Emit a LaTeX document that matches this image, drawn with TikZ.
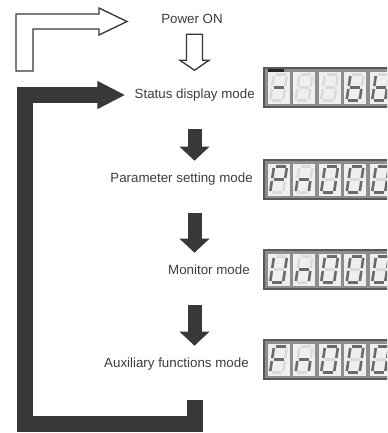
\documentclass[tikz,border=0pt]{standalone}
\usepackage{fontspec}
\setmainfont{Liberation Sans}
\usepackage{tikz}
\usetikzlibrary{arrows.meta}
\usetikzlibrary{positioning}
\usepackage{xcolor}
\definecolor{ink}{HTML}{3C3C3C}
\definecolor{fatgray}{HTML}{383838}
\definecolor{framegray}{HTML}{8E8E8E}
\definecolor{cellgray}{HTML}{EFEFEF}
\definecolor{segon}{HTML}{6A6A6A}
\definecolor{segoff}{HTML}{DADADA}

\tikzset{
  modetext/.style={inner sep=0pt, text height=7pt, text depth=2pt, text=ink},
  hollow/.style={draw=fatgray, fill=white, line width=1pt, line join=miter},
  fatarrow/.style={draw=fatgray, line width=10.5pt,
    -{Triangle[length=10.5pt, width=21.75pt]}},
  fatloop/.style={draw=fatgray, line width=12pt, line join=miter,
    -{Triangle[length=21pt, width=19.5pt]}},
  ledframe/.style={fill=framegray, draw=black!65, line width=1.2pt},
  ledcell/.style={fill=cellgray, draw=black!45, line width=0.6pt},
  lit/.style={draw=segon, line width=1.9pt, line cap=butt},
  unlit/.style={draw=segoff, line width=1.9pt, line cap=butt}
}

% segments a b c d e f g
\def\glyphall{1.5/0/11.5/0, 13/1.5/13/11.5, 13/14.5/13/24.5, 1.5/26/11.5/26, 0/14.5/0/24.5, 0/1.5/0/11.5, 1.5/13/11.5/13}
\def\glyphnone{0/0/0/0}
\def\glyphdash{1.5/13/11.5/13}
\def\glyphb{0/1.5/0/11.5, 0/14.5/0/24.5, 1.5/26/11.5/26, 13/14.5/13/24.5, 1.5/13/11.5/13}
\def\glyphP{1.5/0/11.5/0, 13/1.5/13/11.5, 0/1.5/0/11.5, 0/14.5/0/24.5, 1.5/13/11.5/13}
\def\glyphn{0/14.5/0/24.5, 1.5/13/11.5/13, 13/14.5/13/24.5}
\def\glyphzero{1.5/0/11.5/0, 13/1.5/13/11.5, 13/14.5/13/24.5, 1.5/26/11.5/26, 0/14.5/0/24.5, 0/1.5/0/11.5}
\def\glyphU{13/1.5/13/11.5, 13/14.5/13/24.5, 1.5/26/11.5/26, 0/14.5/0/24.5, 0/1.5/0/11.5}
\def\glyphF{1.5/0/11.5/0, 0/1.5/0/11.5, 0/14.5/0/24.5, 1.5/13/11.5/13}

\newcommand{\segdigit}[3]{%
  \draw[ledcell] (#1,#2) rectangle ++(23,33);
  \begin{scope}[shift={(#1+7,#2+3.5)}, xslant=0.15]
    \foreach \ua/\va/\ub/\vb in \glyphall {\draw[unlit] (\ua,\va) -- (\ub,\vb);}
    \foreach \ua/\va/\ub/\vb in #3 {\draw[lit] (\ua,\va) -- (\ub,\vb);}
  \end{scope}}

\newcommand{\ledpanel}[6]{%
  \draw[ledframe] (264,#1) rectangle (400,#1+39);
  \segdigit{267}{#1+3}{#2}
  \segdigit{292.5}{#1+3}{#3}
  \segdigit{318}{#1+3}{#4}
  \segdigit{343.5}{#1+3}{#5}
  \segdigit{369}{#1+3}{#6}}

\begin{document}
\begin{tikzpicture}[x=0.75pt, y=-0.75pt]
  \useasboundingbox (0,0) rectangle (387,433);
  \coordinate (col) at (194.5,0);

  \node[modetext] (pon) at (192,20) {Power ON};
  \node[modetext, anchor=east] (status) at (255,95) {Status display mode};
  \node[modetext, anchor=east] (param) at (253,179) {Parameter setting mode};
  \node[modetext, anchor=east] (monitor) at (250,271) {Monitor mode};
  \node[modetext, anchor=east] (aux) at (249,364) {Auxiliary functions mode};

  % power on
  \draw[hollow] (16,71) |- (99,14) -- (99,8) -- (127,21.5) -- (99,35)
    -- (99,29) -| (33,71) -- cycle;
  \draw[hollow] (pon.south -| col) ++(-8,8) -- ++(16,0) -- ++(0,26)
    -- ++(6.5,0) -- ++(-14.5,10) -- ++(-14.5,-10) -- ++(6.5,0) -- cycle;

  \foreach \a/\b in {status/param, param/monitor, monitor/aux}
    \draw[fatarrow, shorten <=21pt, shorten >=9pt] (\a.south -| col) -- (\b.north -| col);

  \coordinate (back) at (194.5,400);
  \draw[fatloop, shorten >=6.75pt] (back) |- (24.5,424) |- (status.west);

  \begin{scope}
    \clip (0,0) rectangle (387,433);
    \ledpanel{68}{\glyphdash}{\glyphnone}{\glyphnone}{\glyphb}{\glyphb}
    \fill[black!85] (268,69) rectangle (284,71.5);
    \ledpanel{160}{\glyphP}{\glyphn}{\glyphzero}{\glyphzero}{\glyphzero}
    \ledpanel{250}{\glyphU}{\glyphn}{\glyphzero}{\glyphzero}{\glyphzero}
    \ledpanel{340}{\glyphF}{\glyphn}{\glyphzero}{\glyphzero}{\glyphzero}
  \end{scope}
\end{tikzpicture}
\end{document}
